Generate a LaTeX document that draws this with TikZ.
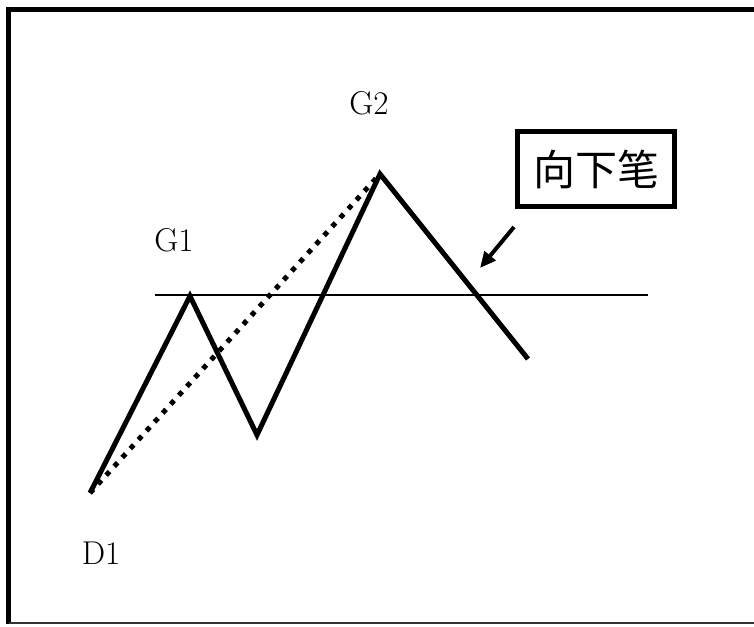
\documentclass[tikz,border=0pt]{standalone}
\usepackage{fontspec}
\newfontfamily\cjk{Noto Sans CJK SC}
\usetikzlibrary{arrows.meta}
\begin{document}
\begin{tikzpicture}[x=1pt,y=-1pt,
  zig/.style={line width=5pt,line join=miter,line cap=butt},
  lbl/.style={font=\fontsize{33}{33}\selectfont,inner sep=0pt},
  frame/.style={line width=5pt}]
\useasboundingbox (0,0) rectangle (754,626);
% frame
\draw[frame] (8.5,624) -- (8.5,9.5) -- (754,9.5);
\draw[line width=1.6pt,black!80] (8.5,623) -- (754,623);
% points
\coordinate (D1) at (90,493);
\coordinate (P1) at (190,296);
\coordinate (T1) at (257,435);
\coordinate (P2) at (380,174);
\coordinate (E) at (528,359);
\coordinate (HL) at (155,295);
\coordinate (HR) at (648,295);
% horizontal line
\draw[line width=2pt] (HL) -- (HR);
% zigzag
\draw[zig] (D1) -- (P1) -- (T1) -- (P2) -- (E);
% dotted
\draw[line width=5pt,dash pattern=on 5pt off 7pt] (D1) -- (P2);
% labels
\node[lbl] (g2) at (369,103) {G2};
\node[lbl] (g1) at (174,240) {G1};
\node[lbl] (d1) at (101,553) {D1};
% box
\node[draw,line width=5.5pt,minimum width=157pt,minimum height=75pt,inner sep=0pt,
  font=\cjk\fontsize{42}{42}\selectfont] (box) at (596,169) {向下笔};
% arrow
\coordinate (A0) at (514,227);
\coordinate (A1) at (480,268);
\draw[line width=4pt,-{Triangle[length=16pt,width=14pt]}] (A0) -- (A1);
\end{tikzpicture}
\end{document}
